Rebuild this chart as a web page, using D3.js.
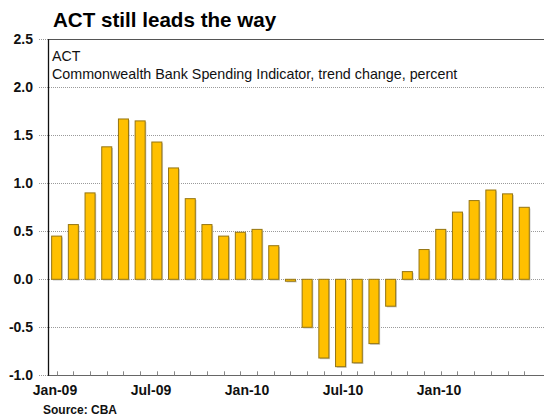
<!DOCTYPE html>
<html>
<head>
<meta charset="utf-8">
<script src="https://cdn.jsdelivr.net/npm/d3@7"></script>
<style>
  html, body { margin: 0; padding: 0; background: #fff; }
  svg { display: block; font-family: "Liberation Sans", Arial, sans-serif; }
</style>
</head>
<body>
<svg id="chart" width="544" height="416"></svg>
<script>
const months = ["Jan-09","Feb-09","Mar-09","Apr-09","May-09","Jun-09","Jul-09","Aug-09","Sep-09","Oct-09","Nov-09","Dec-09",
                "Jan-10","Feb-10","Mar-10","Apr-10","May-10","Jun-10","Jul-10","Aug-10","Sep-10","Oct-10","Nov-10","Dec-10",
                "Jan-11","Feb-11","Mar-11","Apr-11","May-11"];
const values = [0.45, 0.57, 0.90, 1.38, 1.67, 1.65, 1.43, 1.16, 0.84, 0.57, 0.45, 0.49,
                0.52, 0.35, -0.02, -0.50, -0.82, -0.91, -0.87, -0.67, -0.28, 0.08, 0.31, 0.52,
                0.70, 0.82, 0.93, 0.89, 0.75];
const yTicks = [2.5, 2.0, 1.5, 1.0, 0.5, 0.0, -0.5, -1.0];
const xTickLabels = ["Jan-09","Jul-09","Jan-10","Jul-10","Jan-10"];
const xTickIndex = [0, 6, 12, 18, 24];
const title = "ACT still leads the way";
const subtitle1 = "ACT";
const subtitle2 = "Commonwealth Bank Spending Indicator, trend change, percent";
const source = "Source: CBA";

(function () {
const svg = d3.select("#chart");
const pLeft = 48, pRight = 544, pTop = 39.3, pBottom = 375.3;

const x = d3.scaleBand().domain(months).range([48.3, 48.3 + 16.7 * months.length]).paddingInner(0.4).paddingOuter(0.2);
const y = d3.scaleLinear().domain([-1, 2.5]).range([pBottom, pTop]);
const labelX = d3.scaleLinear().domain([0, 24]).range([55, 439]);

// gridlines (dotted) including stubs left of axis
svg.append("g").selectAll("line").data(yTicks).join("line")
  .attr("x1", 39).attr("x2", pRight)
  .attr("y1", d => Math.round(y(d)) + 0.5).attr("y2", d => Math.round(y(d)) + 0.5)
  .attr("stroke", "#9a9a9a").attr("stroke-width", 1).attr("stroke-dasharray", "1,1");

// top border solid
svg.append("line").attr("x1", pLeft).attr("x2", pRight)
  .attr("y1", Math.round(y(2.5)) + 0.5).attr("y2", Math.round(y(2.5)) + 0.5)
  .attr("stroke", "#555").attr("stroke-width", 1.2);

// bars: shadow then bar
const bars = svg.append("g");
bars.selectAll("rect.shadow").data(values).join("rect").attr("class", "shadow")
  .attr("x", (d, i) => x(months[i]) + 1.2)
  .attr("y", d => Math.min(y(d), y(0)) + 1.2)
  .attr("width", x.bandwidth())
  .attr("height", d => Math.max(1, Math.abs(y(d) - y(0))))
  .attr("fill", "#c8c8c8");
bars.selectAll("rect.bar").data(values).join("rect").attr("class", "bar")
  .attr("x", (d, i) => x(months[i]))
  .attr("y", d => Math.min(y(d), y(0)))
  .attr("width", x.bandwidth())
  .attr("height", d => Math.max(1, Math.abs(y(d) - y(0))))
  .attr("fill", "#FFC000").attr("stroke", "#957512").attr("stroke-width", 1);

// bottom axis line with ticks
svg.append("line").attr("x1", pLeft).attr("x2", pRight)
  .attr("y1", Math.round(y(-1)) + 0.5).attr("y2", Math.round(y(-1)) + 0.5)
  .attr("stroke", "#666").attr("stroke-width", 1.2);
svg.append("g").selectAll("line").data(months).join("line")
  .attr("x1", d => Math.round(x(d) + x.bandwidth() / 2) + 0.5)
  .attr("x2", d => Math.round(x(d) + x.bandwidth() / 2) + 0.5)
  .attr("y1", y(-1)).attr("y2", y(-1) - 4)
  .attr("stroke", "#888").attr("stroke-width", 1);

// left axis
svg.append("line").attr("x1", pLeft + 0.5).attr("x2", pLeft + 0.5)
  .attr("y1", pTop).attr("y2", pBottom + 0.5)
  .attr("stroke", "#111").attr("stroke-width", 1.3);

// y labels
svg.append("g").selectAll("text").data(yTicks).join("text")
  .attr("x", 33).attr("y", d => y(d) + 5)
  .attr("text-anchor", "end").attr("font-size", 14).attr("font-weight", "bold").attr("fill", "#111")
  .text(d => d.toFixed(1));

// x labels
svg.append("g").selectAll("text").data(xTickLabels).join("text")
  .attr("x", (d, i) => labelX(xTickIndex[i])).attr("y", 395)
  .attr("text-anchor", "middle").attr("font-size", 14).attr("font-weight", "bold").attr("fill", "#111")
  .text(d => d);

// title
svg.append("text").attr("x", 53).attr("y", 27)
  .attr("font-size", 20.6).attr("font-weight", "bold").attr("fill", "#000").text(title);

// subtitles
svg.append("text").attr("x", 52).attr("y", 60.5)
  .attr("font-size", 14.2).attr("fill", "#111").text(subtitle1);
svg.append("text").attr("x", 52).attr("y", 79)
  .attr("font-size", 14.3).attr("fill", "#111").text(subtitle2);

// source
svg.append("text").attr("x", 43).attr("y", 414)
  .attr("font-size", 12).attr("font-weight", "bold").attr("fill", "#111").text(source);
})();
</script>
</body>
</html>
